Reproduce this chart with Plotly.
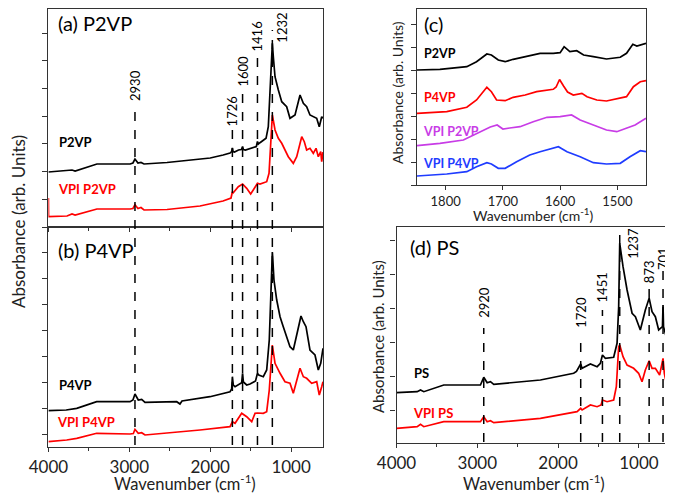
import plotly.graph_objects as go

# ---------------- data (wavenumber in cm-1, absorbance in arb. units) ----------------
# Panel (a): P2VP
a_p2vp_wn = [4000, 3770, 3708, 3670, 3400, 2990, 2955, 2930, 2893, 2856, 2818, 2534, 2250, 2000, 1840,
             1755, 1735, 1726, 1718, 1700, 1650, 1615, 1600, 1590, 1565, 1510, 1470, 1430, 1416, 1405,
             1385, 1310, 1282, 1261, 1232, 1220, 1199, 1158, 1116, 1055, 1014, 952, 890, 849, 808,
             767, 726, 684, 652, 622, 606]
a_p2vp_abs = [55, 56, 57, 56, 63, 63, 64, 68, 64, 64.5, 63, 64.5, 67, 69, 72,
              74, 75.5, 79, 75.5, 75, 77, 77.5, 80.5, 77.5, 77, 78.7, 80, 80.5, 85.5, 83,
              84.3, 88.7, 100.3, 140.3, 183.7, 170.3, 150.3, 137, 125.3, 120.3, 108.7, 112, 132, 123.7, 120.3,
              112, 110.3, 108.7, 100.3, 110.3, 108.7]
a_vpi_wn = [4000, 3998, 3770, 3708, 3670, 3400, 2990, 2955, 2930, 2893, 2856, 2818, 2534, 2126, 1842,
            1743, 1726, 1715, 1653, 1600, 1549, 1500, 1468, 1416, 1385, 1302, 1273, 1249, 1232, 1199,
            1158, 1116, 1076, 1035, 973, 931, 869, 837, 808, 767, 726, 692, 664, 634, 622, 606]
a_vpi_abs = [29, 10.3, 11, 13, 12, 18, 18, 18.5, 22.3, 18.5, 19.5, 17, 17.5, 21, 26,
             29, 35.3, 34.3, 40.3, 43, 38.7, 33, 37, 43.7, 43, 45.3, 53.7, 87, 112, 97,
             88.7, 83.7, 77, 70.3, 63.7, 70.3, 90.3, 85.3, 77, 78.7, 73.7, 78.7, 70.3, 75.3, 65.3, 75]

# Panel (b): P4VP
b_p4vp_wn = [4000, 3780, 3650, 3403, 2991, 2955, 2930, 2889, 2847, 2806, 2414, 2386, 2374, 2349, 2003,
             1755, 1735, 1726, 1715, 1693, 1611, 1600, 1590, 1549, 1508, 1440, 1416, 1400, 1344, 1302,
             1270, 1232, 1212, 1178, 1137, 1097, 1014, 973, 911, 878, 849, 816, 767, 705, 664,
             634, 606]
b_p4vp_abs = [36.3, 37, 38.7, 45.3, 45.3, 47, 53, 47, 47.7, 44.7, 45.3, 43.5, 43, 46, 50.3,
              55.3, 58, 70.3, 62, 60.3, 64.3, 73.7, 65, 62, 63, 66, 73.7, 72, 70.3, 77,
              107, 195, 167, 147, 130.3, 120.3, 100.3, 97, 120.3, 131, 125.3, 120.3, 97, 92, 77,
              83.7, 98.7]
b_vpi_wn = [4000, 3774, 3650, 3403, 2991, 2950, 2930, 2889, 2847, 2806, 2126, 1755, 1726, 1693, 1611,
            1549, 1487, 1446, 1416, 1344, 1302, 1270, 1232, 1199, 1137, 1076, 1014, 973, 890, 849,
            808, 746, 684, 652, 622, 606]
b_vpi_abs = [5.3, 7, 8.7, 13.7, 13, 13.5, 17.7, 13.7, 14.3, 12, 17, 20.3, 25.3, 23.7, 33.7,
             30.3, 25.3, 33.7, 34, 33.7, 35.3, 57, 102, 83.7, 73.7, 65.3, 63.7, 53.7, 78.7, 70.3,
             68.7, 63.7, 65.3, 52, 60.3, 65.3]

# Panel (c): zoom 1850-1450 cm-1
c_p2vp_wn = [1850, 1810, 1763, 1746, 1728, 1720, 1708, 1696, 1682, 1658, 1635, 1612, 1600, 1593, 1583,
             1571, 1559, 1542, 1519, 1495, 1484, 1473, 1466, 1450]
c_p2vp_abs = [115, 115.7, 118.3, 123.3, 131, 130, 125, 123.3, 125.7, 129, 131.7, 131.7, 132.3, 138.3, 133.3,
              134.3, 130, 128.3, 126, 127.7, 131.7, 140.7, 139, 141.7]
c_p4vp_wn = [1850, 1798, 1763, 1746, 1728, 1720, 1711, 1696, 1682, 1661, 1641, 1612, 1607, 1601, 1594,
             1587, 1577, 1562, 1553, 1536, 1519, 1495, 1484, 1472, 1460, 1450]
c_p4vp_abs = [71.7, 73.3, 77.7, 85, 97.7, 93.3, 85, 84.3, 87.7, 90, 93.3, 95.7, 98, 105.5, 99,
              93, 90, 91.7, 88.3, 85, 84, 86.7, 88.3, 98.3, 103.3, 104.3]
c_vpi2_wn = [1850, 1810, 1769, 1746, 1734, 1722, 1710, 1700, 1688, 1670, 1647, 1623, 1600, 1580, 1565,
             1542, 1519, 1501, 1484, 1469, 1450]
c_vpi2_abs = [39.3, 41.7, 45, 51.7, 55, 58, 60, 56, 57, 58.3, 63.3, 67.7, 68.3, 70, 65,
              60, 55, 53.3, 56.7, 60, 66.7]
c_vpi4_wn = [1850, 1798, 1763, 1746, 1728, 1720, 1708, 1696, 1676, 1653, 1635, 1618, 1603, 1588, 1565,
             1542, 1519, 1495, 1478, 1460, 1450]
c_vpi4_abs = [9, 11, 13.3, 18.3, 22.3, 21, 16.7, 16.7, 23.3, 30, 33.3, 35.7, 38.3, 33.3, 28.3,
              22.3, 21, 21.7, 28.3, 34.3, 33.3]

# Panel (d): PS
d_ps_wn = [4000, 3744, 3703, 3662, 3415, 2961, 2920, 2878, 2837, 2796, 2219, 1807, 1773, 1720, 1703,
           1600, 1517, 1476, 1451, 1415, 1312, 1270, 1250, 1237, 1196, 1146, 1084, 1043, 982, 920,
           873, 837, 796, 755, 708, 701, 695, 651, 619, 590]
d_ps_abs = [50.3, 51.3, 53, 51.3, 58, 58, 65.7, 60.3, 61.3, 58.7, 63, 69.7, 71.5, 79, 74.7,
            79, 76.3, 79.7, 88, 84.7, 85.7, 99.7, 136.3, 199.7, 176.3, 153, 129.7, 126.3, 113, 133,
            144.7, 131.3, 126.3, 113, 116.3, 138, 116.3, 103, 109.7, 118]
d_vpi_wn = [4000, 3744, 3703, 3662, 3415, 2961, 2920, 2878, 2837, 2796, 2219, 1765, 1720, 1703, 1600,
            1517, 1468, 1451, 1394, 1312, 1279, 1250, 1237, 1196, 1146, 1065, 1003, 961, 920, 873,
            837, 796, 743, 701, 685, 651, 619, 590]
d_vpi_abs = [14.7, 16.3, 18.7, 16.3, 21.3, 21.3, 26.3, 21.3, 22.3, 20.3, 24.7, 31.3, 34.7, 33, 38,
             36.3, 38, 43, 41.3, 43, 56.3, 96.3, 98, 86.3, 78, 74.7, 69.7, 61.3, 73, 82.3,
             74.7, 74.7, 68, 84.7, 69.7, 56.3, 63, 69.7]

# marked peak positions
ab_peaks = [2930, 1726, 1600, 1416, 1232]
d_peaks = [2920, 1720, 1451, 1237, 873, 701]
xtick_vals = [4000, 3000, 2000, 1000]
c_tick_vals = [1800, 1700, 1600, 1500]

# ---------------- layout helpers ----------------
OFF = 8                      # default page body margin
W, H = 673 - OFF, 493 - OFF  # figure size that fits inside the window
def fx(p):
    return min(1.0, max(0.0, (p - OFF) / W))
def fy(p):
    return min(1.0, max(0.0, 1 - (p - OFF) / H))

FONT = "Lato"
AX = "#333333"
BLACK = "#000000"
RED = "#ff0000"
MAGENTA = "#c83ce6"
BLUE = "#1f3cff"

fig = go.Figure()

def add(wn, ab, color, xa, ya):
    fig.add_trace(go.Scatter(x=wn, y=ab, mode="lines", line=dict(color=color, width=1.7),
                             xaxis=xa, yaxis=ya, showlegend=False, hoverinfo="skip"))

add(a_p2vp_wn, a_p2vp_abs, BLACK, "x", "y")
add(a_vpi_wn, a_vpi_abs, RED, "x", "y")
add(b_p4vp_wn, b_p4vp_abs, BLACK, "x2", "y2")
add(b_vpi_wn, b_vpi_abs, RED, "x2", "y2")
add(c_p2vp_wn, c_p2vp_abs, BLACK, "x3", "y3")
add(c_p4vp_wn, c_p4vp_abs, RED, "x3", "y3")
add(c_vpi2_wn, c_vpi2_abs, MAGENTA, "x3", "y3")
add(c_vpi4_wn, c_vpi4_abs, BLUE, "x3", "y3")
add(d_ps_wn, d_ps_abs, BLACK, "x4", "y4")
add(d_vpi_wn, d_vpi_abs, RED, "x4", "y4")

base = dict(showline=True, mirror=True, linecolor=AX, linewidth=1.3, showgrid=False,
            zeroline=False, ticks="outside", ticklen=4, tickcolor=AX, tickwidth=1,
            automargin=False)

def xax(dom, rng, anchor, labels, vals, size, minor=None):
    d = dict(base, domain=dom, range=rng, anchor=anchor, tickmode="array", tickvals=vals,
             showticklabels=labels, tickfont=dict(family=FONT, size=size, color="#222"))
    if minor:
        d["minor"] = dict(ticks="outside", ticklen=3, tickcolor=AX, dtick=minor, showgrid=False)
    return d

def yax(dom, rng, anchor, t0, dt):
    return dict(base, domain=dom, range=rng, anchor=anchor, showticklabels=False,
                tick0=t0, dtick=dt, ticklen=5)

fig.update_layout(
    width=W, height=H, margin=dict(l=0, r=0, t=0, b=0, autoexpand=False),
    paper_bgcolor="white", plot_bgcolor="white",
    xaxis=xax([fx(48.4), fx(323)], [4000, 606], "y", False, xtick_vals, 17, 500),
    yaxis=yax([fy(227), fy(8.6)], [0, 218.4], "x", 0, 27.7),
    xaxis2=xax([fx(48.4), fx(323)], [4000, 606], "y2", True, xtick_vals, 17, 500),
    yaxis2=yax([fy(447), fy(227)], [0, 220], "x2", 12.7, 26),
    xaxis3=xax([fx(417), fx(646)], [1850, 1450], "y3", True, c_tick_vals, 13),
    yaxis3=yax([fy(185), fy(8.6)], [0, 176.4], "x3", 0, 22.9),
    xaxis4=xax([fx(396.5), fx(672)], [4000, 590], "y4", True, xtick_vals, 17, 500),
    yaxis4=yax([fy(443), fy(227)], [0, 216], "x4", 32.3, 34),
)

shapes = []
ann = []

def text(x, y, s, size, color="#000", bold=False, angle=0, xanchor="left", xref="paper"):
    if bold:
        s = "<b>" + s + "</b>"
    ann.append(dict(x=x, y=fy(y), xref=xref, yref="paper", text=s, showarrow=False,
                    font=dict(family=FONT, size=size, color=color), textangle=angle,
                    xanchor=xanchor, yanchor="middle"))

# dashed peak markers (a)/(b)
ab_top = [105, 127, 90, 53, 30]
ab_lab_y = [85, 111, 71, 36, 28]
ab_lab_dx = [0, 0, 0, 0, 115]
for wn, top, ly, dx in zip(ab_peaks, ab_top, ab_lab_y, ab_lab_dx):
    shapes.append(dict(type="line", xref="x", yref="paper", x0=wn, x1=wn, y0=fy(445), y1=fy(top),
                       line=dict(color="black", width=1.5, dash="dash")))
    text(wn - dx, ly, str(wn), 13, angle=-90, xanchor="center", xref="x")

# dashed peak markers (d)
d_top = [328, 334, 310, 228, 285, 270]
d_lab_y = [302, 312, 287, 243, 272, 259]
d_lab_dx = [0, 0, 0, 160, 0, 0]
for wn, top, ly, dx in zip(d_peaks, d_top, d_lab_y, d_lab_dx):
    shapes.append(dict(type="line", xref="x4", yref="paper", x0=wn, x1=wn, y0=fy(442), y1=fy(top),
                       line=dict(color="black", width=1.5, dash="dash")))
    ann.append(dict(x=wn - dx, y=fy(ly), xref="x4", yref="paper", text=str(wn), showarrow=False,
                    font=dict(family=FONT, size=13, color="#000"), textangle=-90,
                    xanchor="center", yanchor="middle"))

# panel titles
text(fx(56), 23, "(a) P2VP", 20)
text(fx(56), 250, "(b) P4VP", 20)
text(fx(422), 24, "(c)", 20)
text(fx(408), 247, "(d) PS", 20)

# series labels
text(fx(57), 142, "P2VP", 13, bold=True)
text(fx(56), 189, "VPI P2VP", 13, RED, bold=True)
text(fx(57), 385, "P4VP", 13, bold=True)
text(fx(55), 422, "VPI P4VP", 13, RED, bold=True)
text(fx(422), 53, "P2VP", 12.5, bold=True)
text(fx(422), 97, "P4VP", 12.5, RED, bold=True)
text(fx(421), 132, "VPI P2VP", 12.5, MAGENTA, bold=True)
text(fx(421), 163, "VPI P4VP", 12.5, BLUE, bold=True)
text(fx(412), 373, "PS", 13, bold=True)
text(fx(411), 413, "VPI PS", 13, RED, bold=True)

# axis titles
text(fx(185), 483, "Wavenumber (cm<sup>-1</sup>)", 16.5, "#222", xanchor="center")
text(fx(533), 214, "Wavenumber (cm<sup>-1</sup>)", 14, "#222", xanchor="center")
text(fx(534), 483, "Wavenumber (cm<sup>-1</sup>)", 16.5, "#222", xanchor="center")
text(fx(18), 222, "Absorbance (arb. Units)", 17, "#222", angle=-90, xanchor="center")
text(fx(397), 93, "Absorbance (arb. Units)", 14, "#222", angle=-90, xanchor="center")
text(fx(378), 337, "Absorbance (arb. Units)", 15, "#222", angle=-90, xanchor="center")

fig.update_layout(shapes=shapes, annotations=ann)
fig.write_html("out.html")
